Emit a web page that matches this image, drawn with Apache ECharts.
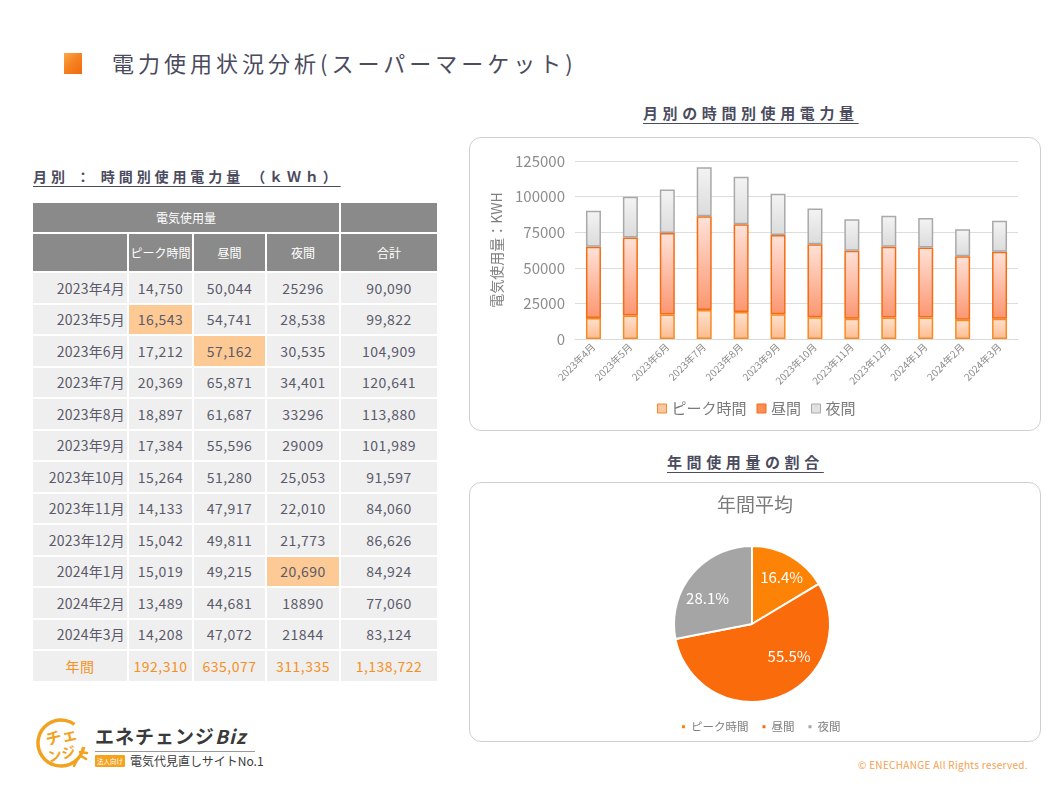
<!DOCTYPE html>
<html>
<head>
<meta charset="utf-8">
<script src="https://cdn.jsdelivr.net/npm/echarts@6/dist/echarts.min.js"></script>
<style>
  html, body { margin:0; padding:0; background:#fff; }
  body { width:1058px; height:794px; position:relative; overflow:hidden;
         font-family:"Noto Sans CJK JP","Noto Sans",sans-serif; }
  .abs { position:absolute; }
  #mark { left:64px; top:53px; width:18px; height:21px;
          background:linear-gradient(135deg,#fba848 0%,#f6801f 50%,#f06a12 100%); }
  #mainTitle { left:112px; top:48px; font-size:22px; line-height:28px; color:#4b4b5e; letter-spacing:4px; }
  .secTitle { font-size:15px; font-weight:bold; color:#4b4b5e; letter-spacing:4.6px;
              text-decoration:underline; text-underline-offset:4px; text-decoration-thickness:1px; line-height:20px; }
  #tblTitle { left:33px; top:166px; font-size:14px; letter-spacing:3.9px; }
  #t1 { left:643px; top:103px; }
  #t2 { left:667px; top:452px; }
  .box { border:1px solid #cfcfcf; border-radius:12px; box-sizing:border-box; }
  #box1 { left:469px; top:137px; width:572px; height:294px; }
  #box2 { left:469px; top:482px; width:572px; height:260px; }
  #barChart { left:469px; top:137px; width:572px; height:294px; }
  #pieChart { left:469px; top:482px; width:572px; height:260px; }
  table { position:absolute; left:31px; top:201px; width:406px; border-collapse:collapse; table-layout:fixed; }
  td { border:2px solid #fff; padding:0; text-align:center; font-size:14px; color:#5a5a6a; letter-spacing:0.5px;
       background:#efefef; white-space:nowrap; overflow:hidden; }
  td.lab { text-align:right; padding-right:2px; letter-spacing:0.2px; }
  tr.h td { background:#8a8a8a; color:#fff; font-size:12px; letter-spacing:0; }
  tr.h1 { height:31px; }
  tr.h2 { height:39px; }
  tr.d { height:31.5px; }
  td.hl { background:#fdc994; }
  tr.sum td { color:#f7901e; font-size:14px; }
  #logoText { left:95px; top:724px; font-size:19px; font-weight:bold; color:#3a3a3a; letter-spacing:1px; line-height:24px; }
  #logoText i { font-style:italic; }
  #logoLine { left:95px; top:751px; width:160px; height:1px; background:#9a9a9a; }
  #badge { left:95px; top:755px; width:30px; height:12px; background:#f5a31f; color:#fff; font-size:6.5px;
           line-height:12px; text-align:center; border-radius:1px; white-space:nowrap; }
  #sub { left:130px; top:753px; font-size:12px; color:#3a3a3a; line-height:16px; }
  #copy { left:858px; top:758px; font-size:10px; color:#f6a04e; line-height:14px; letter-spacing:0.3px; }
</style>
</head>
<body>
<div id="mark" class="abs"></div>
<div id="mainTitle" class="abs">電力使用状況分析(スーパーマーケット)</div>
<div id="tblTitle" class="abs secTitle">月別 ： 時間別使用電力量 （ｋＷｈ）</div>
<div id="t1" class="abs secTitle">月別の時間別使用電力量</div>
<div id="t2" class="abs secTitle">年間使用量の割合</div>
<div id="box1" class="abs box"></div>
<div id="box2" class="abs box"></div>
<table id="tbl"></table>

<svg class="abs" style="left:34px;top:716px" width="56" height="56" viewBox="0 0 56 56">
  <circle cx="27" cy="27" r="23" fill="none" stroke="#f3a21f" stroke-width="3.5" stroke-dasharray="118 27" transform="rotate(10 27 27)"/>
  <path d="M43 44 L40 50 M47 40 L52 43 M46 36 L53 37" fill="none" stroke="#f3a21f" stroke-width="2.5" stroke-linecap="round"/>
  <text x="12" y="28" font-size="16" font-weight="bold" fill="#f3a21f" transform="rotate(-12 20 24)" font-family="Noto Sans CJK JP">チェ</text>
  <text x="14" y="44" font-size="14" font-weight="bold" fill="#f3a21f" transform="rotate(-12 24 40)" font-family="Noto Sans CJK JP">ンジ</text>
</svg>
<div id="logoText" class="abs">エネチェンジ<i>Biz</i></div>
<div id="logoLine" class="abs"></div>
<div id="badge" class="abs">法人向け</div>
<div id="sub" class="abs">電気代見直しサイトNo.1</div>
<div id="copy" class="abs">© ENECHANGE All Rights reserved.</div>

<div id="barChart" class="abs"></div>
<div id="pieChart" class="abs"></div>

<script>
// ---------- data ----------
const months = ['2023年4月','2023年5月','2023年6月','2023年7月','2023年8月','2023年9月',
                '2023年10月','2023年11月','2023年12月','2024年1月','2024年2月','2024年3月'];
const seriesNames = ['ピーク時間','昼間','夜間'];
const peakText  = ['14,750','16,543','17,212','20,369','18,897','17,384','15,264','14,133','15,042','15,019','13,489','14,208'];
const dayText   = ['50,044','54,741','57,162','65,871','61,687','55,596','51,280','47,917','49,811','49,215','44,681','47,072'];
const nightText = ['25296','28,538','30,535','34,401','33296','29009','25,053','22,010','21,773','20,690','18890','21844'];
const totalText = ['90,090','99,822','104,909','120,641','113,880','101,989','91,597','84,060','86,626','84,924','77,060','83,124'];
const annualLabel = '年間';
const annualText = ['192,310','635,077','311,335','1,138,722'];
const highlights = [[1,0],[2,1],[9,2]]; // [row, column(0=peak,1=day,2=night)]
const pieShare = [16.4, 55.5, 28.1];
const pieTitle = '年間平均';
const yMin = 0, yMax = 125000, yStep = 25000;
const yName = '電気使用量：KWH';
const tableHead = ['電気使用量','ピーク時間','昼間','夜間','合計'];

const toNum = s => Number(String(s).replace(/,/g,''));
const peak = peakText.map(toNum), day = dayText.map(toNum), night = nightText.map(toNum);

// ---------- table ----------
(function(){
  const t = document.getElementById('tbl');
  let h = '<colgroup><col style="width:96px"><col style="width:65px"><col style="width:73px"><col style="width:74px"><col style="width:98px"></colgroup>';
  h += '<tr class="h h1"><td colspan="4">'+tableHead[0]+'</td><td></td></tr>';
  h += '<tr class="h h2"><td></td><td>'+tableHead[1]+'</td><td>'+tableHead[2]+'</td><td>'+tableHead[3]+'</td><td>'+tableHead[4]+'</td></tr>';
  const isHl = (r,c) => highlights.some(p => p[0]===r && p[1]===c);
  months.forEach((m,i) => {
    const cols = [peakText[i], dayText[i], nightText[i]];
    h += '<tr class="d"><td class="lab">'+m+'</td>' +
      cols.map((v,c) => '<td'+(isHl(i,c)?' class="hl"':'')+'>'+v+'</td>').join('') +
      '<td>'+totalText[i]+'</td></tr>';
  });
  h += '<tr class="d sum"><td>'+annualLabel+'</td>'+annualText.map(v=>'<td>'+v+'</td>').join('')+'</tr>';
  t.innerHTML = h;
})();

// ---------- bar chart ----------
const FONT = '"Noto Sans CJK JP","Noto Sans",sans-serif';
const vg = (a,b) => new echarts.graphic.LinearGradient(0,0,0,1,[{offset:0,color:a},{offset:1,color:b}]);
const barStyles = [
  {fill: vg('#fee2cf','#fdbb8e'), border:'#f98a22', legend:'#fcc6a2'},
  {fill: vg('#ffe2d8','#fb9670'), border:'#f46c14', legend:'#fb8d58'},
  {fill: vg('#f4f4f4','#dbdbdb'), border:'#a9a9a9', legend:'#e2e2e2'}
];
const barData = [peak, day, night];
const bar = echarts.init(document.getElementById('barChart'));
bar.setOption({
  animation:false,
  textStyle:{fontFamily:FONT},
  grid:{left:106, top:24, width:443, height:178, containLabel:false},
  legend:{
    left:183, top:259, itemWidth:9, itemHeight:9, itemGap:10, icon:'rect',
    textStyle:{fontSize:15, color:'#7a7a7a', fontFamily:FONT},
    data: seriesNames.map((n,i)=>({name:n, itemStyle:{color:barStyles[i].legend, borderColor:barStyles[i].border, borderWidth:1}}))
  },
  xAxis:{
    type:'category', data:months,
    axisLine:{lineStyle:{color:'#d9d9d9'}}, axisTick:{show:false},
    axisLabel:{rotate:45, interval:0, fontSize:10, color:'#8a8a8a', margin:6, fontFamily:FONT}
  },
  yAxis:{
    type:'value', min:yMin, max:yMax, interval:yStep,
    name:yName, nameLocation:'middle', nameGap:68, nameRotate:90,
    nameTextStyle:{fontSize:14, color:'#7f7f7f', fontFamily:FONT},
    axisLine:{show:false}, axisTick:{show:false},
    axisLabel:{fontSize:15, color:'#8c8c8c', margin:10, fontFamily:FONT, formatter:v => String(v)},
    splitLine:{lineStyle:{color:'#dddddd'}}
  },
  series: seriesNames.map((n,i)=>({
    name:n, type:'bar', stack:'total', data:barData[i], barWidth:15,
    itemStyle:{color:barStyles[i].fill, borderColor:barStyles[i].border, borderWidth:1.5}
  }))
});

// ---------- pie chart ----------
const pieColors = ['#fd8306','#f96b0b','#a5a5a5'];
const pieOffsets = [[9,-10],[22,-7],[-12,1]];
const pie = echarts.init(document.getElementById('pieChart'));
pie.setOption({
  animation:false,
  textStyle:{fontFamily:FONT},
  title:{text:pieTitle, left:'center', top:8, textStyle:{fontSize:19, fontWeight:'normal', color:'#7b7b7b', fontFamily:FONT}},
  legend:{
    left:206, top:234, icon:'rect', itemWidth:5, itemHeight:5, itemGap:12,
    textStyle:{fontSize:11.5, color:'#7f7f7f', fontFamily:FONT},
    data: seriesNames
  },
  series:[{
    type:'pie', center:[283,142], radius:78, startAngle:90, clockwise:true,
    itemStyle:{borderColor:'#fff', borderWidth:2},
    label:{show:true, position:'inside', color:'#fff', fontSize:15, fontFamily:FONT,
           formatter:p => p.value.toFixed(1)+'%'},
    labelLine:{show:false},
    data: seriesNames.map((n,i)=>({name:n, value:pieShare[i], itemStyle:{color:pieColors[i]}, label:{offset:pieOffsets[i]}}))
  }]
});
</script>
</body>
</html>
